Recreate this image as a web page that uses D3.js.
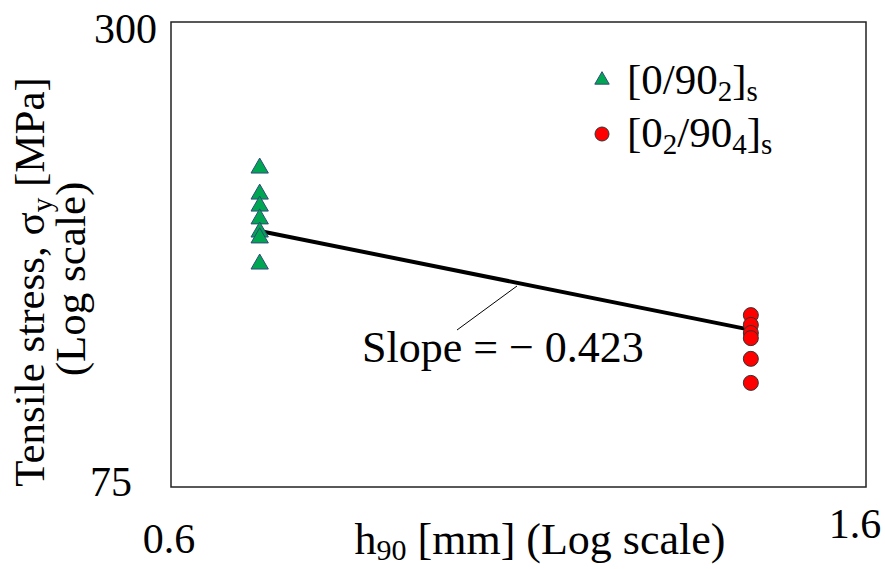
<!DOCTYPE html>
<html>
<head>
<meta charset="utf-8">
<script src="https://cdn.jsdelivr.net/npm/d3@7"></script>
</head>
<body style="margin:0">
<script>
// values
var xTicks = [0.6, 1.6];
var yTicks = [75, 300];

var triX = 0.68;
var triY = [194.1, 179.6, 173.3, 166.8, 160.4, 157.6, 145.8];

var cirX = 1.36;
var cirY = [125.2, 121.6, 118.7, 116.9, 109.9, 102.3];

// fitted power law, end points
var fitX = [0.68, 1.36];
var fitY = [160.9, 119.8];

var W = 885, H = 569;
var m = {left: 171, right: 866, top: 22, bottom: 487};

var svg = d3.select("body").append("svg")
	.attr("width", W)
	.attr("height", H);

var x = d3.scaleLog().domain([0.6, 1.6]).range([m.left, m.right]);
var y = d3.scaleLog().domain([75, 300]).range([m.bottom, m.top]);

function label(px, py, size, anchor) {
	return svg.append("text")
		.attr("x", px).attr("y", py)
		.style("font-family", "'Liberation Serif'")
		.style("font-size", size + "px")
		.style("text-anchor", anchor || "start");
}

// plot frame
svg.append("rect")
	.attr("x", m.left)
	.attr("y", m.top)
	.attr("width", m.right - m.left)
	.attr("height", m.bottom - m.top)
	.style("fill", "none")
	.style("stroke", "#222")
	.style("stroke-width", 1.5);

// tick labels (only the end values)
label(x(0.6) - 14, y(300) + 21, 42, "end").text(yTicks[1]);
label(x(0.6) - 39, y(75) + 9, 42, "end").text(yTicks[0]);
label(x(xTicks[0]) - 2, m.bottom + 66, 42, "middle").text(xTicks[0]);
label(x(xTicks[1]) - 11, m.bottom + 51, 42, "middle").text(xTicks[1]);

// axis titles
var xt = label(540, 554, 44, "middle");
xt.append("tspan").text("h");
xt.append("tspan").attr("dy", 6).style("font-size", "30px").text("90");
xt.append("tspan").attr("dy", -6).text(" [mm] (Log scale)");

var yt1 = label(0, 0, 43, "middle")
	.attr("transform", "translate(44,282) rotate(-90)");
yt1.append("tspan").text("Tensile stress, \u03c3");
yt1.append("tspan").attr("dy", 8).style("font-size", "29px").text("y");
yt1.append("tspan").attr("dy", -8).text(" [MPa]");
label(0, 0, 43, "middle")
	.attr("transform", "translate(85,279) rotate(-90)")
	.text("(Log scale)");

// fit line
svg.append("line")
	.attr("x1", x(fitX[0])).attr("y1", y(fitY[0]))
	.attr("x2", x(fitX[1])).attr("y2", y(fitY[1]))
	.style("stroke", "#000")
	.style("stroke-width", 4);

var tri = d3.symbol().type(d3.symbolTriangle).size(130);

svg.selectAll(".tri").data(triY).enter().append("path")
	.attr("class", "tri")
	.attr("d", tri)
	.attr("transform", function(d) { return "translate(" + x(triX) + "," + y(d) + ")"; })
	.style("fill", "#00a651")
	.style("stroke", "#2f4a7a")
	.style("stroke-width", 1);

svg.selectAll(".cir").data(cirY).enter().append("circle")
	.attr("class", "cir")
	.attr("cx", x(cirX))
	.attr("cy", function(d) { return y(d); })
	.attr("r", 7.5)
	.style("fill", "#ff0000")
	.style("stroke", "#333")
	.style("stroke-width", 1);

// slope annotation with leader line
svg.append("line")
	.attr("x1", 457).attr("y1", 330)
	.attr("x2", 517).attr("y2", 286)
	.style("stroke", "#000")
	.style("stroke-width", 1);
label(362, 362, 44).text("Slope = \u2212 0.423");

// legend
svg.append("path")
	.attr("d", d3.symbol().type(d3.symbolTriangle).size(90))
	.attr("transform", "translate(602,80)")
	.style("fill", "#00a651")
	.style("stroke", "#2f4a7a")
	.style("stroke-width", 1);
var l1 = label(627, 94, 43);
l1.append("tspan").text("[0/90");
l1.append("tspan").attr("dy", 7).style("font-size", "29px").text("2");
l1.append("tspan").attr("dy", -7).text("]");
l1.append("tspan").attr("dy", 7).style("font-size", "29px").text("s");

svg.append("circle")
	.attr("cx", 602).attr("cy", 134)
	.attr("r", 7)
	.style("fill", "#ff0000")
	.style("stroke", "#333")
	.style("stroke-width", 1);
var l2 = label(627, 147, 43);
l2.append("tspan").text("[0");
l2.append("tspan").attr("dy", 7).style("font-size", "29px").text("2");
l2.append("tspan").attr("dy", -7).text("/90");
l2.append("tspan").attr("dy", 7).style("font-size", "29px").text("4");
l2.append("tspan").attr("dy", -7).text("]");
l2.append("tspan").attr("dy", 7).style("font-size", "29px").text("s");
</script>
</body>
</html>
